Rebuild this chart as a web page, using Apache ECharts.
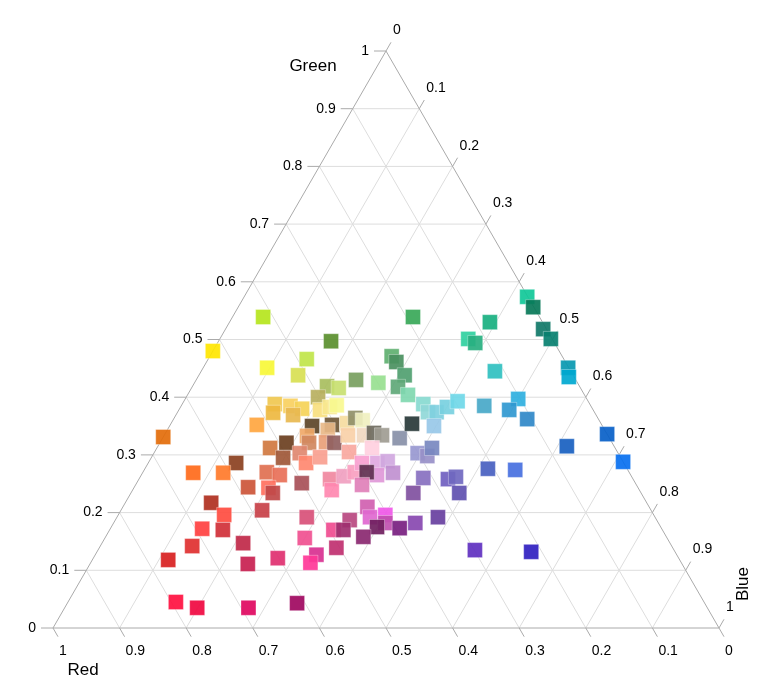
<!DOCTYPE html>
<html lang="en">
<head>
<meta charset="UTF-8">
<title>Ternary colour plot</title>
<script src="https://cdn.jsdelivr.net/npm/echarts@6/dist/echarts.min.js"></script>
<style>
    html, body { margin: 0; padding: 0; background: #fff; }
    #chart { width: 770px; height: 683px; }
</style>
</head>
<body>
<div id="chart"></div>
<script>
    // axes: Red (bottom), Green (left), Blue (right)
    const axisNames = ['Red', 'Green', 'Blue'];
    const tickValues = [0, 0.1, 0.2, 0.3, 0.4, 0.5, 0.6, 0.7, 0.8, 0.9, 1];
    const tickLabels = ['0', '0.1', '0.2', '0.3', '0.4', '0.5', '0.6', '0.7', '0.8', '0.9', '1'];

    // [red, green, blue] share of every colour
    const colourShares = [
        [0.415, 0.539, 0.046], [0.520, 0.480, 0.000], [0.334, 0.497, 0.169], [0.386, 0.466, 0.148],
        [0.453, 0.451, 0.096], [0.413, 0.438, 0.149], [0.379, 0.419, 0.202], [0.363, 0.416, 0.221],
        [0.402, 0.400, 0.198], [0.473, 0.388, 0.139], [0.451, 0.385, 0.164], [0.436, 0.380, 0.184],
        [0.483, 0.373, 0.144], [0.455, 0.369, 0.176], [0.410, 0.378, 0.212], [0.393, 0.383, 0.224],
        [0.381, 0.386, 0.233], [0.518, 0.352, 0.130], [0.436, 0.350, 0.214], [0.405, 0.352, 0.243],
        [0.416, 0.343, 0.241], [0.489, 0.321, 0.190], [0.518, 0.312, 0.170], [0.452, 0.333, 0.215],
        [0.455, 0.321, 0.224], [0.429, 0.322, 0.249], [0.417, 0.321, 0.262], [0.381, 0.355, 0.264],
        [0.390, 0.334, 0.276], [0.364, 0.364, 0.272], [0.355, 0.360, 0.285], [0.366, 0.334, 0.300],
        [0.349, 0.338, 0.313], [0.339, 0.334, 0.327], [0.315, 0.329, 0.356], [0.669, 0.331, 0.000],
        [0.582, 0.286, 0.132], [0.507, 0.295, 0.198], [0.478, 0.303, 0.219], [0.477, 0.286, 0.237],
        [0.451, 0.296, 0.253], [0.403, 0.305, 0.292], [0.655, 0.269, 0.076], [0.610, 0.269, 0.121],
        [0.544, 0.270, 0.186], [0.527, 0.265, 0.208], [0.585, 0.244, 0.171], [0.555, 0.243, 0.202],
        [0.553, 0.234, 0.213], [0.501, 0.251, 0.248], [0.455, 0.258, 0.287], [0.462, 0.239, 0.299],
        [0.432, 0.263, 0.305], [0.412, 0.270, 0.318], [0.654, 0.217, 0.129], [0.645, 0.196, 0.159],
        [0.584, 0.204, 0.212], [0.690, 0.172, 0.138], [0.660, 0.170, 0.170], [0.641, 0.147, 0.212],
        [0.523, 0.192, 0.285], [0.494, 0.170, 0.336], [0.544, 0.156, 0.300], [0.720, 0.142, 0.138],
        [0.768, 0.118, 0.114], [0.652, 0.111, 0.237], [0.602, 0.121, 0.277], [0.541, 0.127, 0.332],
        [0.557, 0.113, 0.330], [0.505, 0.139, 0.356], [0.793, 0.045, 0.162], [0.766, 0.035, 0.199],
        [0.689, 0.035, 0.276], [0.612, 0.043, 0.345], [0.365, 0.312, 0.323], [0.393, 0.286, 0.321],
        [0.370, 0.286, 0.344], [0.353, 0.289, 0.358], [0.355, 0.269, 0.376], [0.381, 0.265, 0.354],
        [0.394, 0.270, 0.336], [0.412, 0.248, 0.340], [0.423, 0.210, 0.367], [0.428, 0.192, 0.380],
        [0.403, 0.196, 0.401], [0.410, 0.182, 0.408], [0.426, 0.175, 0.399], [0.393, 0.173, 0.434],
        [0.461, 0.187, 0.352], [0.479, 0.170, 0.351], [0.455, 0.158, 0.387], [0.301, 0.303, 0.396],
        [0.289, 0.298, 0.413], [0.275, 0.312, 0.413], [0.314, 0.260, 0.426], [0.278, 0.258, 0.464],
        [0.264, 0.262, 0.474], [0.273, 0.234, 0.493], [0.342, 0.234, 0.424], [0.326, 0.192, 0.482],
        [0.365, 0.182, 0.453], [0.299, 0.135, 0.566], [0.216, 0.132, 0.652], [0.209, 0.276, 0.515],
        [0.169, 0.274, 0.557], [0.190, 0.539, 0.271], [0.256, 0.471, 0.273], [0.254, 0.461, 0.285],
        [0.253, 0.438, 0.309], [0.273, 0.418, 0.309], [0.330, 0.430, 0.240], [0.299, 0.425, 0.276],
        [0.265, 0.404, 0.331], [0.250, 0.388, 0.362], [0.250, 0.374, 0.376], [0.237, 0.374, 0.389],
        [0.217, 0.383, 0.400], [0.196, 0.393, 0.411], [0.253, 0.350, 0.397], [0.284, 0.354, 0.362],
        [0.160, 0.385, 0.455], [0.103, 0.397, 0.500], [0.126, 0.378, 0.496], [0.107, 0.362, 0.531],
        [0.114, 0.445, 0.441], [0.126, 0.501, 0.373], [0.119, 0.494, 0.387], [0.079, 0.530, 0.391],
        [0.001, 0.574, 0.425], [0.001, 0.556, 0.443], [0.005, 0.518, 0.477], [0.002, 0.501, 0.497],
        [0.001, 0.451, 0.548], [0.008, 0.435, 0.557], [0.000, 0.336, 0.664], [0.071, 0.315, 0.614],
        [0.000, 0.288, 0.712]
    ];

    const colourHex = [
        '#B5E51D', '#FFE600', '#5A8F2E', '#C0E54A', '#F7F738', '#D8E052', '#A8BE5E', '#C8E070',
        '#B8B060', '#F0C850', '#F8D060', '#F5D258', '#EEB840', '#E8B850', '#F8E080', '#F8E890',
        '#F8F890', '#FFA640', '#5C4428', '#705838', '#E8B888', '#6B3F20', '#D07840', '#F0A868',
        '#D08860', '#E8A078', '#906060', '#F5DCA0', '#F8D0A8', '#909068', '#F0F0C0', '#F0D8C0',
        '#6E6A5E', '#A09C92', '#8890A8', '#E36C0A', '#8B4020', '#A05838', '#E08870', '#FF8870',
        '#F8A090', '#F8A8A0', '#FF6A1A', '#FF7A2A', '#E07050', '#E87058', '#CC5538', '#FF7060',
        '#C04848', '#A85058', '#F088A0', '#FF88B0', '#F0A0C0', '#F8A0C0', '#B03020', '#FF4C40',
        '#C84048', '#FF4040', '#D03038', '#C02848', '#D85078', '#F04C90', '#F05090', '#E03030',
        '#D82020', '#C82050', '#E03070', '#D83090', '#FF3898', '#C03070', '#FF1040', '#F00840',
        '#E00860', '#A00860', '#FFD0E0', '#F8A0D0', '#E0A8E0', '#D0A8E0', '#C090D0', '#E098D8',
        '#603050', '#E080B8', '#D060B0', '#E068D0', '#F058E8', '#C050B0', '#702060', '#782080',
        '#B84880', '#A03070', '#8A2870', '#9898D0', '#9890C8', '#7888C0', '#8870C0', '#7060C0',
        '#7068C0', '#6050B0', '#8050A0', '#6840A0', '#8848B0', '#6030C0', '#3020C0', '#4860C0',
        '#4870E0', '#38A858', '#60B070', '#4A9060', '#50A070', '#60A878', '#78A060', '#98E090',
        '#80D8B0', '#88DAD0', '#90D8D8', '#80D0E0', '#78D0E0', '#70D8E8', '#98C8E8', '#283838',
        '#48A8C8', '#30B0E0', '#3098D0', '#3088C8', '#30C0C0', '#30D0A0', '#28B080', '#18B080',
        '#10C898', '#087858', '#107868', '#088070', '#0898B0', '#00A8D0', '#0860C8', '#1860C0',
        '#0870F0'
    ];

    const H = Math.sqrt(3) / 2;
    const FONT = "'Liberation Sans', Arial, sans-serif";

    // ternary [r, g, b] -> plain x/y of the hidden cartesian grid
    function toXY(p) {
        return [p[2] + p[1] / 2, p[1] * H];
    }

    // line where component `axis` equals t
    function constantLine(axis, t) {
        if (axis === 0) return [[t, 1 - t, 0], [t, 0, 1 - t]];
        if (axis === 1) return [[1 - t, t, 0], [0, t, 1 - t]];
        return [[1 - t, 0, t], [0, 1 - t, t]];
    }

    // where each axis carries its ticks
    function tickAnchor(axis, t) {
        if (axis === 0) return [t, 0, 1 - t];
        if (axis === 1) return [1 - t, t, 0];
        return [0, 1 - t, t];
    }

    const tickDir = [[5, 8.7], [-12, 0], [5, -8.7]];

    // ------------------------- grid segments -------------------------
    const gridSegments = [];
    const edgeSegments = [];
    tickValues.forEach(t => {
        if (t === 1) return;
        for (let axis = 0; axis < 3; axis++) {
            const ends = constantLine(axis, t);
            const a = toXY(ends[0]), b = toXY(ends[1]);
            (t === 0 ? edgeSegments : gridSegments).push([a[0], a[1], b[0], b[1]]);
        }
    });

    const tickData = [];
    for (let axis = 0; axis < 3; axis++) {
        tickValues.forEach((t, i) => tickData.push([axis, t, i]));
    }

    function segmentSeries(data, colour) {
        return {
            type: 'custom',
            silent: true,
            clip: false,
            data: data,
            renderItem: (params, api) => {
                const a = api.coord([api.value(0), api.value(1)]);
                const b = api.coord([api.value(2), api.value(3)]);
                return {
                    type: 'line',
                    shape: { x1: a[0], y1: a[1], x2: b[0], y2: b[1] },
                    style: { stroke: colour, lineWidth: 1 }
                };
            }
        };
    }

    const chart = echarts.init(document.getElementById('chart'));

    chart.setOption({
        animation: false,
        grid: { left: 53, top: 51, width: 666, height: 577 },
        xAxis: { type: 'value', min: 0, max: 1, show: false },
        yAxis: { type: 'value', min: 0, max: H, show: false },
        series: [
            segmentSeries(gridSegments, '#dddddd'),
            segmentSeries(edgeSegments, '#aaaaaa'),
            {
                // ticks and tick labels
                type: 'custom',
                silent: true,
                clip: false,
                data: tickData,
                renderItem: (params, api) => {
                    const axis = api.value(0), t = api.value(1), idx = api.value(2);
                    const base = api.coord(toXY(tickAnchor(axis, t)));
                    const d = tickDir[axis];
                    const end = [base[0] + d[0], base[1] + d[1]];
                    let tx, ty, align;
                    if (axis === 0) { tx = end[0] + 1; ty = end[1] + 14; align = 'left'; }
                    else if (axis === 1) { tx = end[0] - 5; ty = end[1]; align = 'right'; }
                    else { tx = end[0] + 2; ty = end[1] - 12; align = 'left'; }
                    return {
                        type: 'group',
                        children: [
                            {
                                type: 'line',
                                shape: { x1: base[0], y1: base[1], x2: end[0], y2: end[1] },
                                style: { stroke: '#aaaaaa', lineWidth: 1 }
                            },
                            {
                                type: 'text',
                                x: tx, y: ty,
                                style: {
                                    text: tickLabels[idx], fill: '#000',
                                    font: '14px ' + FONT,
                                    textAlign: align, textVerticalAlign: 'middle'
                                }
                            }
                        ]
                    };
                }
            },
            {
                // axis titles next to their vertex
                type: 'custom',
                silent: true,
                clip: false,
                data: [[0], [1], [2]],
                renderItem: (params, api) => {
                    const axis = api.value(0);
                    const vertex = [0, 0, 0];
                    vertex[axis] = 1;
                    const p = api.coord(toXY(vertex));
                    const offs = [[30, 42], [-73, 15], [24, -44]][axis];
                    return {
                        type: 'text',
                        x: p[0] + offs[0], y: p[1] + offs[1],
                        rotation: axis === 2 ? Math.PI / 2 : 0,
                        style: {
                            text: axisNames[axis], fill: '#000',
                            font: '17px ' + FONT,
                            textAlign: 'center', textVerticalAlign: 'middle'
                        }
                    };
                }
            },
            {
                type: 'scatter',
                symbol: 'rect',
                symbolSize: 15,
                data: colourShares.map((p, i) => ({
                    value: toXY(p),
                    itemStyle: { color: colourHex[i] }
                })),
                itemStyle: {
                    opacity: 0.92,
                    borderColor: 'rgba(255,255,255,0.35)',
                    borderWidth: 1
                },
                z: 3
            }
        ]
    });
</script>
</body>
</html>
